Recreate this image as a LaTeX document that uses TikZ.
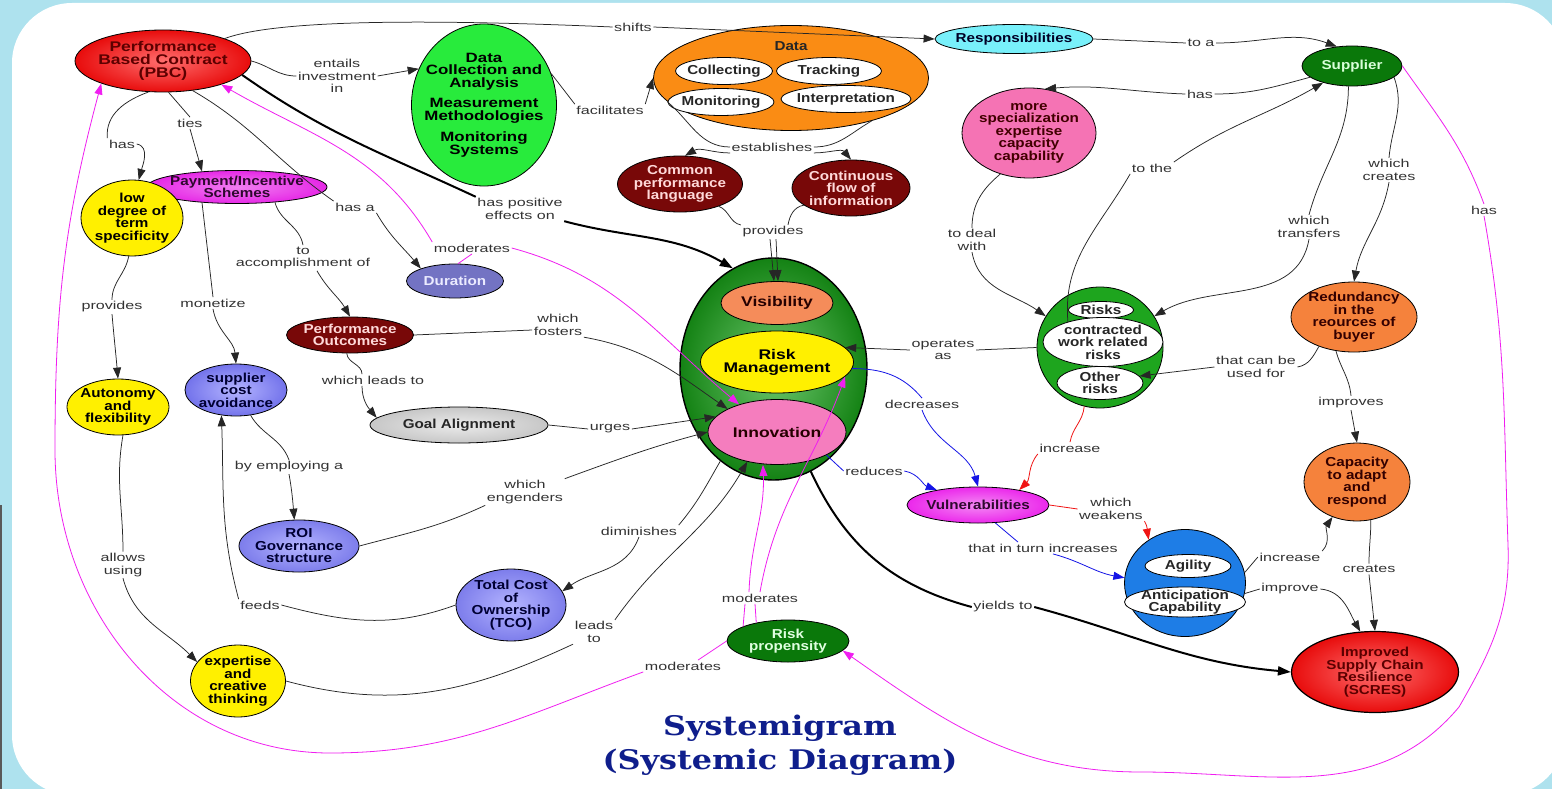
\documentclass[tikz,border=0pt]{standalone}
\usepackage{fontspec}
\setmainfont{Liberation Sans}
\newfontfamily\nfont[FakeStretch=1.17]{Liberation Sans}
\newfontfamily\bfont[FakeStretch=1.25]{Liberation Sans}
\newfontfamily\lfont[FakeStretch=1.4]{Liberation Sans}
\newfontfamily\tfont[FakeStretch=1.18]{DejaVu Serif}
\usetikzlibrary{shapes.geometric,arrows.meta}
\definecolor{bgblue}{RGB}{174,226,238}
\definecolor{pbcin}{RGB}{255,110,110}
\definecolor{pbcout}{RGB}{232,12,12}
\definecolor{txtred}{RGB}{92,0,0}
\definecolor{dcagreen}{RGB}{40,235,60}
\definecolor{dataor}{RGB}{250,140,20}
\definecolor{respc}{RGB}{120,240,250}
\definecolor{suppc}{RGB}{10,120,10}
\definecolor{specc}{RGB}{245,115,180}
\definecolor{maroon}{RGB}{120,8,8}
\definecolor{payc}{RGB}{230,40,230}
\definecolor{yel}{RGB}{255,240,0}
\definecolor{durc}{RGB}{115,115,195}
\definecolor{cenin}{RGB}{110,200,110}
\definecolor{cenout}{RGB}{20,130,20}
\definecolor{visc}{RGB}{245,140,90}
\definecolor{innoc}{RGB}{245,125,190}
\definecolor{scain}{RGB}{180,180,255}
\definecolor{scaout}{RGB}{115,115,235}
\definecolor{roic}{RGB}{125,125,235}
\definecolor{rcc}{RGB}{30,165,30}
\definecolor{orc}{RGB}{245,130,60}
\definecolor{vulc}{RGB}{235,40,235}
\definecolor{agc}{RGB}{30,125,230}
\definecolor{mgc}{RGB}{240,30,240}
\definecolor{blc}{RGB}{20,20,230}
\definecolor{rdc}{RGB}{240,20,20}
\definecolor{titleblue}{RGB}{15,30,140}
\tikzset{
 nd/.style={ellipse, draw=black, line width=0.8pt, inner xsep=-30pt, inner ysep=-12pt, align=center, font=\nfont\bfseries\fontsize{13}{12.5}\selectfont},
 bg/.style={nd, font=\bfont\bfseries\fontsize{14}{13}\selectfont},
 sz/.style 2 args={minimum width=#1pt, minimum height=#2pt},
 lb/.style={inner sep=1.5pt, align=center, text=black!80, font=\lfont\fontsize{11.5}{12.5}\selectfont},
 ln/.style={draw=black!85, line width=0.75pt},
 ar/.style={ln, -{Triangle[length=11pt,width=8pt]}},
 thk/.style={draw=black, line width=2pt},
 thkar/.style={thk, -{Triangle[length=13pt,width=9pt]}},
 mg/.style={draw=mgc, line width=0.8pt},
 mgar/.style={mg, -{Triangle[length=11pt,width=8pt]}},
 bl/.style={draw=blc, line width=0.8pt},
 blar/.style={bl, -{Triangle[length=11pt,width=8pt]}},
 rd/.style={draw=rdc, line width=0.8pt},
 rdar/.style={rd, -{Triangle[length=11pt,width=8pt]}},
}
\begin{document}
\begin{tikzpicture}[x=1pt,y=-1pt]
\begin{scope}
\clip (0,0) rectangle (1552,789);
\fill[bgblue] (0,0) rectangle (1552,789);
\fill[white, rounded corners=60pt] (12,3) rectangle (1565,795);
\draw[black!65, line width=2.5pt] (1,505) -- (1,789);
\end{scope}
\useasboundingbox (0,0) rectangle (1552,789);

% ---------- nodes ----------
\node[bg, sz={176}{62}, shading=radial, inner color=pbcin, outer color=pbcout, text=txtred] (pbc) at (163,61) {Performance\\Based Contract\\(PBC)};
\node[bg, sz={145}{162}, fill=dcagreen, text=black, font=\bfont\bfseries\fontsize{13.5}{12.5}\selectfont] (dca) at (484,105) {Data\\Collection and\\Analysis\\[8pt]Measurement\\Methodologies\\[8pt]Monitoring\\Systems};
\node[nd, sz={275}{105}, fill=dataor] (data) at (791,78) {};
\node[nd, draw=none, text=black!85] (datat) at (791,46) {Data};
\node[nd, sz={97}{27}, fill=white, text=black!85] (coll) at (724,71) {Collecting};
\node[nd, sz={105}{27}, fill=white, text=black!85] (track) at (829,71) {Tracking};
\node[nd, sz={106}{27}, fill=white, text=black!85] (moni) at (721,102) {Monitoring};
\node[nd, sz={130}{27}, fill=white, text=black!85] (interp) at (846,99) {Interpretation};
\node[nd, sz={158}{29}, fill=respc, text=black!85!blue] (resp) at (1014,39) {Responsibilities};
\node[nd, sz={100}{40}, fill=suppc, text=green!15] (supp) at (1352,66) {Supplier};
\node[nd, sz={134}{90}, fill=specc, text=txtred!70!black] (spec) at (1029,133) {more\\specialization\\expertise\\capacity\\capability};
\node[nd, sz={125}{56}, fill=maroon, text=red!15] (cpl) at (680,184) {Common\\performance\\language};
\node[nd, sz={118}{56}, fill=maroon, text=red!15] (cfi) at (851,188) {Continuous\\flow of\\information};
\node[nd, sz={180}{33}, shading=radial, inner color=payc!60!white, outer color=payc, text=black!80!payc] (pay) at (237,187) {Payment/Incentive\\Schemes};
\node[nd, sz={102}{76}, fill=yel, text=black] (low) at (132,218) {low\\degree of\\term\\specificity};
\node[nd, sz={97}{34}, fill=durc, text=blue!8] (dur) at (455,281) {Duration};
\node[nd, sz={187}{222}, line width=1.4pt, shading=radial, inner color=cenin, outer color=cenout] (cen) at (773.5,369) {};
\node[bg, sz={112}{43}, fill=visc, text=black!85!red] (vis) at (777,303) {Visibility};
\node[bg, sz={153}{62}, fill=yel, text=black] (rm) at (777,362) {Risk\\Management};
\node[bg, sz={138}{65}, fill=innoc, text=black!85!red] (inno) at (777,432) {Innovation};
\node[nd, sz={127}{36}, fill=maroon, text=red!15] (po) at (350,335) {Performance\\Outcomes};
\node[nd, sz={178}{36}, shading=radial, inner color=white!92!black, outer color=black!22, text=black!85] (ga) at (459,425) {Goal Alignment};
\node[nd, sz={102}{56}, fill=yel, text=black] (auto) at (118,407) {Autonomy\\and\\flexibility};
\node[nd, sz={102}{52}, shading=radial, inner color=scain, outer color=scaout, text=blue!20!black] (sca) at (236,390) {supplier\\cost\\avoidance};
\node[nd, sz={120}{52}, shading=radial, inner color=scain, outer color=roic, text=blue!20!black] (roi) at (299,546) {ROI\\Governance\\structure};
\node[nd, sz={110}{72}, shading=radial, inner color=scain, outer color=roic, text=blue!20!black] (tco) at (511,605) {Total Cost\\of\\Ownership\\(TCO)};
\node[nd, sz={95}{72}, fill=yel, text=black] (exp) at (238,681) {expertise\\and\\creative\\thinking};
\node[nd, sz={122}{42}, fill=suppc, text=green!12] (rp) at (788,641) {Risk\\propensity};
\node[nd, sz={126}{121}, fill=rcc] (rc) at (1100,347.5) {};
\node[nd, sz={65}{17}, fill=white, text=black!85] (risks) at (1101,310) {Risks};
\node[nd, sz={120}{49}, fill=white, text=black!85] (cwr) at (1103,342) {contracted\\work related\\risks};
\node[nd, sz={86}{33}, fill=white, text=black!85] (oth) at (1100,383) {Other\\risks};
\node[nd, sz={126}{70}, fill=orc, text=black!80!red] (red) at (1354,317) {Redundancy\\in the\\reources of\\buyer};
\node[nd, sz={106}{78}, fill=orc, text=black!80!red] (cap) at (1357,482) {Capacity\\to adapt\\and\\respond};
\node[nd, sz={142}{36}, shading=radial, inner color=vulc!55!white, outer color=vulc, text=black!80!vulc] (vul) at (978,505) {Vulnerabilities};
\node[nd, sz={121}{107}, fill=agc] (ag) at (1185,583) {};
\node[nd, sz={86}{23}, fill=white, text=black!85] (agil) at (1188,566) {Agility};
\node[nd, sz={121}{30}, fill=white, text=black!85] (antic) at (1185,602) {Anticipation\\Capability};
\node[nd, sz={167}{81}, line width=1.2pt, shading=radial, inner color=pbcin, outer color=pbcout, text=txtred] (scres) at (1375,672) {Improved\\Supply Chain\\Resilience\\(SCRES)};

\node[font=\tfont\bfseries\fontsize{27}{34}\selectfont, text=titleblue, align=center] (title) at (780,745) {Systemigram\\(Systemic Diagram)};

% ---------- labels ----------
\node[lb] (shifts) at (633,27) {shifts};
\node[lb] (toa) at (1201,43) {to a};
\node[lb] (entails) at (337,76) {entails\\investment\\in};
\node[lb] (facil) at (610,110) {facilitates};
\node[lb] (estab) at (772,147) {establishes};
\node[lb] (provides) at (773,232) {provides};
\node[lb] (hpe) at (520,209) {has positive\\effects on};
\node[lb] (has1) at (1200,94) {has};
\node[lb] (todeal) at (972,240) {to deal\\with};
\node[lb] (tothe) at (1152,168) {to the};
\node[lb] (transfers) at (1309,227) {which\\transfers};
\node[lb] (creates1) at (1389,170) {which\\creates};
\node[lb] (hasM) at (1484,210) {has};
\node[lb] (ties) at (190,123) {ties};
\node[lb] (has2) at (122,144) {has};
\node[lb] (hasa) at (355,207) {has a};
\node[lb] (modD) at (472,248) {moderates};
\node[lb] (toacc) at (303,258) {to\\accomplishment of};
\node[lb] (monetize) at (213,303) {monetize};
\node[lb] (prov2) at (112,307) {provides};
\node[lb] (fosters) at (558,325) {which\\fosters};
\node[lb] (leadsto) at (373,380) {which leads to};
\node[lb] (urges) at (610,429) {urges};
\node[lb] (employ) at (289,467) {by employing a};
\node[lb] (engenders) at (525,492) {which\\engenders};
\node[lb] (dimin) at (639,531) {diminishes};
\node[lb] (allows) at (123,565) {allows\\using};
\node[lb] (feeds) at (260,605) {feeds};
\node[lb] (leads) at (594,632) {leads\\to};
\node[lb] (modR1) at (760,598) {moderates};
\node[lb] (modR2) at (683,666) {moderates};
\node[lb] (yields) at (1003,607) {yields to};
\node[lb] (operates) at (943,350) {operates\\as};
\node[lb] (usedfor) at (1256,367) {that can be\\used for};
\node[lb] (improves) at (1351,403) {improves};
\node[lb] (decreases) at (922,404) {decreases};
\node[lb] (reduces) at (874,471) {reduces};
\node[lb] (incr1) at (1070,448) {increase};
\node[lb] (weakens) at (1111,509) {which\\weakens};
\node[lb] (inturn) at (1043,548) {that in turn increases};
\node[lb] (incr2) at (1290,557) {increase};
\node[lb] (improve) at (1290,589) {improve};
\node[lb] (creates2) at (1369,569) {creates};

\coordinate (mgR) at (1508,545);
\coordinate (mgC) at (1459,707);
\coordinate (mgB) at (1141,772);
\coordinate (mgL1) at (330,753);
\coordinate (mgL2) at (55,450);

% ---------- connectors ----------
\draw[ln] (pbc.20) .. controls (280,18) and (450,20) .. (shifts.west);
\draw[ar] (shifts.east) -- (resp.west);
\draw[ln] (resp.east) -- (toa.west);
\draw[ar] (toa.east) to[out=0,in=160] (supp.128);
\draw[ln] (pbc.east) to[out=-15,in=180] (entails.west);
\draw[ar] (entails.east) -- (dca.151);
\draw[ln] (dca.25) -- (facil.north west);
\draw[ar] (facil.north east) -- (data.west);
\draw[ln] (moni.west) to[out=-40,in=180] (estab.west);
\draw[ln] (data.-28) to[out=-150,in=0] (estab.east);
\draw[ar] (estab.south west) to[out=180,in=30] (cpl.80);
\draw[ar] (estab.south east) to[out=0,in=130] (cfi.north);
\draw[ln] (cpl.-30) to[out=-20,in=170] (provides.north west);
\draw[ln] (cfi.200) to[out=190,in=80] ([xshift=15]provides.north);
\draw[ar] ([xshift=-3]provides.south) -- ([xshift=-3]vis.north);
\draw[ar] ([xshift=3]provides.south) -- ([xshift=1]vis.north);
\draw[thk] (pbc.-10) to[out=-35,in=155] (hpe.north west);
\draw[thkar] (hpe.south east) to[out=-15,in=150] (cen.112);
\draw[ln] (supp.195) to[out=195,in=0] (has1.east);
\draw[ar] (has1.west) to[out=178,in=5] (spec.70);
\draw[ln] (spec.235) to[out=220,in=90] (todeal.north);
\draw[ar] (todeal.south) to[out=-80,in=145] (rc.150);
\draw[ln] (cwr.150) to[out=95,in=240] (tothe.south west);
\draw[ar] (tothe.north east) to[out=35,in=210] (supp.210);
\draw[ln] (supp.-100) to[out=-90,in=75] (transfers.north);
\draw[ar] (transfers.south) to[out=-100,in=30] (rc.30);
\draw[ln] (supp.-15) to[out=-70,in=85] (creates1.north);
\draw[ar] (creates1.south) to[out=-100,in=80] (red.north);
\draw[mg] (supp.east) to[out=-55,in=110] (hasM.north);
\draw[mgar] (hasM.south) to[out=-80,in=92] (mgR) to[out=-88,in=60] (mgC) to[out=-130,in=0] (mgB) to[out=180,in=-35] (rp.-10);
\draw[mg] (rp.west) -- ([xshift=15]modR2.north);
\draw[mgar] (modR2.south west) to[out=-160,in=0] (mgL1) to[out=180,in=-90] (mgL2) to[out=90,in=-105] (pbc.200);
\draw[mg] (rp.162) -- ([xshift=-15]modR1.south);
\draw[mg] (rp.150) -- ([xshift=-5]modR1.south);
\draw[mgar] ([xshift=-11]modR1.north) to[out=88,in=-88] ([xshift=-14]inno.south);
\draw[mgar] (modR1.north) to[out=80,in=-110] (rm.-12);
\draw[mg] (dur.80) -- (modD.south);
\draw[mgar] (modD.north west) to[out=120,in=-30] (pbc.-22);
\draw[mgar] (modD.east) to[out=-15,in=140] (inno.144);
\draw[ln] (pbc.-45) to[out=-30,in=145] (hasa.north west);
\draw[ar] (hasa.south east) to[out=-60,in=130] (dur.160);
\draw[ln] (pbc.-80) -- (ties.north);
\draw[ar] (ties.south) -- (pay.156);
\draw[ln] (pbc.-115) to[out=200,in=95] (has2.north west);
\draw[ar] (has2.east) to[out=-10,in=75] (low.80);
\draw[ln] (pay.-22) to[out=-75,in=100] (toacc.north);
\draw[ar] ([xshift=14]toacc.south) to[out=-60,in=120] (po.north);
\draw[ln] (pay.204) -- (monetize.north);
\draw[ar] (monetize.south) to[out=-80,in=95] (sca.north);
\draw[ln] (low.-95) to[out=-100,in=90] (prov2.north);
\draw[ar] (prov2.south) to[out=-85,in=95] (auto.north);
\draw[ln] (auto.-80) to[out=-100,in=90] (allows.north);
\draw[ar] (allows.south) to[out=-75,in=135] (exp.155);
\draw[ln] (sca.-60) to[out=-60,in=110] (employ.north);
\draw[ar] (employ.south) to[out=-80,in=95] (roi.100);
\draw[ln] (tco.west) to[out=200,in=-15] (feeds.east);
\draw[ar] (feeds.north west) to[out=105,in=-88] (sca.240);
\draw[ln] (po.east) -- ([yshift=-5]fosters.west);
\draw[ar] (fosters.south east) to[out=-10,in=145] (inno.155);
\draw[ln] (po.-100) to[out=-85,in=90] ([xshift=-11]leadsto.north);
\draw[ar] ([xshift=-11]leadsto.south) to[out=-90,in=130] (ga.175);
\draw[ln] (ga.east) -- (urges.west);
\draw[ar] (urges.east) -- (inno.166);
\draw[ln] (roi.east) to[out=15,in=-155] (engenders.south west);
\draw[ar] (engenders.north east) to[out=20,in=-165] (inno.180);
\draw[ln] (cen.240) to[out=-120,in=50] (dimin.north east);
\draw[ar] (dimin.south) to[out=-110,in=35] (tco.15);
\draw[ln] (exp.east) to[out=-15,in=205] (leads.south west);
\draw[ar] (leads.north east) to[out=55,in=-120] (inno.225);
\draw[thk] (cen.-70) to[out=-65,in=165] (yields.west);
\draw[thkar] (yields.east) to[out=-15,in=175] (scres.west);
\draw[ln] (rc.west) -- (operates.east);
\draw[ar] (operates.west) -- (rm.12);
\draw[ln] (red.220) to[out=-120,in=10] (usedfor.east);
\draw[ar] (usedfor.west) -- (oth.10);
\draw[ln] (red.-118) to[out=-75,in=95] (improves.north);
\draw[ar] (improves.south) -- (cap.north);
\draw[bl] (rm.-5) to[out=0,in=130] (decreases.north);
\draw[blar] (decreases.south) to[out=-70,in=105] (vul.north);
\draw[bl] (inno.-25) -- (reduces.west);
\draw[blar] (reduces.east) to[out=-10,in=160] (vul.160);
\draw[rd] (rc.-105) to[out=-95,in=80] (incr1.north);
\draw[rdar] (incr1.south west) to[out=-130,in=45] (vul.20);
\draw[rd] (vul.east) -- (weakens.west);
\draw[rdar] (weakens.south east) to[out=-60,in=100] (ag.130);
\draw[bl] (vul.-46) -- ([xshift=-25]inturn.north);
\draw[blar] ([xshift=10]inturn.south) to[out=-15,in=170] (ag.175);
\draw[ln] (ag.10) -- (incr2.west);
\draw[ar] (incr2.north east) to[out=45,in=-125] (cap.235);
\draw[ln] (ag.-10) -- (improve.west);
\draw[ar] (improve.east) to[out=-5,in=120] (scres.110);
\draw[ln] (cap.-70) to[out=-90,in=90] (creates2.north);
\draw[ar] (creates2.south) -- (scres.north);
\end{tikzpicture}
\end{document}
